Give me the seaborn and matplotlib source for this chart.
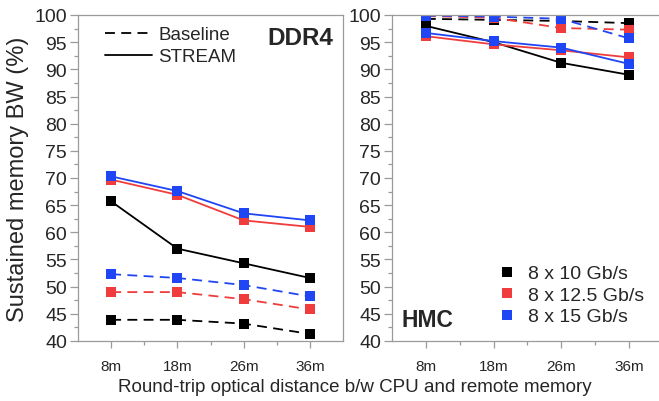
import matplotlib
matplotlib.use("Agg")
import matplotlib.pyplot as plt
from matplotlib.lines import Line2D
from matplotlib.ticker import MultipleLocator, FixedLocator
import pandas as pd
import seaborn as sns

# Round-trip optical distances
distances = ["8m", "18m", "26m", "36m"]
rates = ["8 x 10 Gb/s", "8 x 12.5 Gb/s", "8 x 15 Gb/s"]

# DDR4 sustained bandwidth (%)
ddr4_stream_10 = [65.7, 57.0, 54.3, 51.6]
ddr4_stream_125 = [69.7, 66.9, 62.2, 61.0]
ddr4_stream_15 = [70.3, 67.6, 63.5, 62.2]
ddr4_base_10 = [43.9, 43.9, 43.2, 41.3]
ddr4_base_125 = [49.0, 49.0, 47.7, 45.8]
ddr4_base_15 = [52.3, 51.6, 50.3, 48.2]

# HMC sustained bandwidth (%)
hmc_stream_10 = [98.0, 95.0, 91.2, 89.0]
hmc_stream_125 = [96.1, 94.6, 93.5, 92.2]
hmc_stream_15 = [96.7, 95.2, 94.0, 91.0]
hmc_base_10 = [99.3, 99.1, 98.9, 98.5]
hmc_base_125 = [99.8, 99.5, 97.6, 97.3]
hmc_base_15 = [99.9, 99.7, 99.3, 95.7]

colors = {rates[0]: "#000000", rates[1]: "#f03c3c", rates[2]: "#1f45f5"}


def build(series):
    rows = []
    for kind, rate, vals in series:
        for i, v in enumerate(vals):
            rows.append({"pos": i, "dist": distances[i], "rate": rate,
                         "kind": kind, "bw": v})
    return pd.DataFrame(rows)


ddr4 = build([
    ("Baseline", rates[0], ddr4_base_10),
    ("Baseline", rates[1], ddr4_base_125),
    ("Baseline", rates[2], ddr4_base_15),
    ("STREAM", rates[0], ddr4_stream_10),
    ("STREAM", rates[1], ddr4_stream_125),
    ("STREAM", rates[2], ddr4_stream_15),
])
hmc = build([
    ("Baseline", rates[0], hmc_base_10),
    ("Baseline", rates[1], hmc_base_125),
    ("Baseline", rates[2], hmc_base_15),
    ("STREAM", rates[0], hmc_stream_10),
    ("STREAM", rates[1], hmc_stream_125),
    ("STREAM", rates[2], hmc_stream_15),
])

sns.set_theme(style="ticks")
plt.rcParams["font.family"] = ["Liberation Sans", "DejaVu Sans"]

fig = plt.figure(figsize=(6.59, 4.02), dpi=100)
ax1 = fig.add_axes([78 / 659, 60 / 402, 265 / 659, 326 / 402])
ax2 = fig.add_axes([392 / 659, 60 / 402, 268 / 659, 326 / 402])

spine_gray = "#9a9a9a"

for ax, df, xmax in ((ax1, ddr4, 3.5), (ax2, hmc, 3.46)):
    sns.lineplot(data=df, x="pos", y="bw", hue="rate", style="kind",
                 palette=colors, hue_order=rates,
                 style_order=["Baseline", "STREAM"],
                 markers={"Baseline": "s", "STREAM": "s"},
                 dashes={"Baseline": (5.5, 3.5), "STREAM": ""},
                 markersize=7, markeredgewidth=0, linewidth=1.3,
                 legend=False, ax=ax)
    ax.set_xlim(-0.5, xmax)
    ax.set_ylim(40, 100)
    ax.set_xticks(range(len(distances)))
    ax.set_xticklabels(distances, fontsize=11)
    ax.xaxis.set_minor_locator(FixedLocator([0.5, 1.5, 2.5]))
    ax.yaxis.set_major_locator(MultipleLocator(5))
    ax.yaxis.set_minor_locator(MultipleLocator(2.5))
    ax.tick_params(axis="y", which="major", labelsize=14, length=6,
                   width=0.9, color=spine_gray, pad=2)
    ax.tick_params(axis="y", which="minor", length=3, width=0.9,
                   color=spine_gray)
    ax.tick_params(axis="x", which="major", length=5, width=0.9,
                   color=spine_gray, pad=8)
    ax.tick_params(axis="x", which="minor", length=3, width=0.9,
                   color=spine_gray)
    for s in ax.spines.values():
        s.set_color(spine_gray)
        s.set_linewidth(0.9)
    ax.set_xlabel("")
    ax.set_ylabel("")

ax2.spines["right"].set_visible(False)

ax1.set_ylabel("Sustained memory BW (%)", fontsize=17, labelpad=4)
fig.text(355 / 659, 14 / 402, "Round-trip optical distance b/w CPU and remote memory",
         ha="center", va="center", fontsize=13.5)

ax1.text(0.963, 0.93, "DDR4", transform=ax1.transAxes, ha="right",
         va="center", fontsize=17.5, fontweight="bold")
ax2.text(0.034, 0.067, "HMC", transform=ax2.transAxes, ha="left",
         va="center", fontsize=16.5, fontweight="bold")

style_handles = [
    Line2D([], [], color="black", lw=1.3, ls=(0, (5.5, 3.5))),
    Line2D([], [], color="black", lw=1.3, ls="-"),
]
ax1.legend(style_handles, ["Baseline", "STREAM"], loc="upper left",
           bbox_to_anchor=(0.06, 1.0), frameon=False, fontsize=13.5,
           handlelength=2.5, handletextpad=0.35, labelspacing=0.25,
           borderaxespad=0.2)

rate_handles = [Line2D([], [], color=colors[r], marker="s", ls="",
                       markersize=7, markeredgewidth=0) for r in rates]
ax2.legend(rate_handles, rates, loc="lower right",
           bbox_to_anchor=(1.0, 0.0), frameon=False, fontsize=14,
           handlelength=1.0, handletextpad=0.6, labelspacing=0.2,
           borderaxespad=0.4)

fig.savefig("out.png", dpi=100)
